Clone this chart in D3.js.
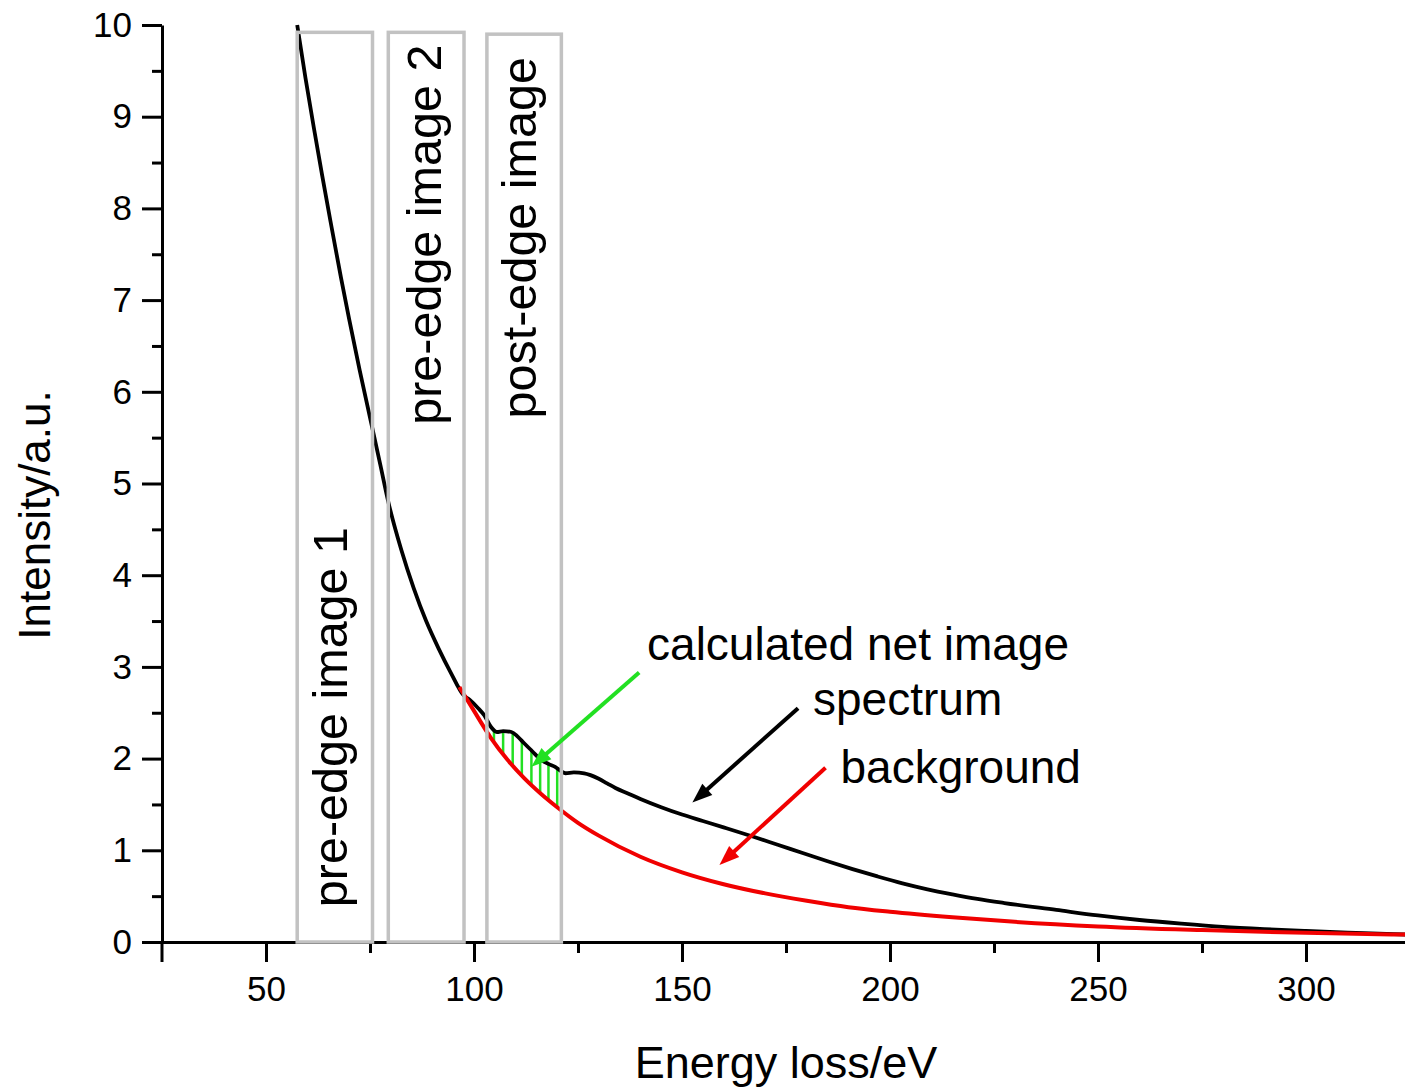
<!DOCTYPE html>
<html>
<head>
<meta charset="utf-8">
<script src="https://cdn.jsdelivr.net/npm/d3@7"></script>
<style>
body { margin: 0; background: #fff; }
text { font-family: "Liberation Sans", Arial, Helvetica, sans-serif; fill: #000; }
</style>
</head>
<body>
<script>
// EELS spectrum with three-window background subtraction

var width = 1405,
    height = 1089;

// measured spectrum (black)
var specE = [57.5, 59.5, 61.5, 63.5, 65.5, 68, 70, 72.5, 75, 77.5, 79.5, 82.5, 85.5, 88.5, 91.5, 94.5, 97.5,
             99, 101, 102.5, 104, 105.5, 107, 109, 110.5, 112, 114, 116, 118, 119.5, 121, 122, 124, 126.5, 128,
             130, 132, 134, 137, 140, 145, 150, 155, 160, 167, 173, 179, 185, 191, 197, 203, 209, 215, 221,
             227.5, 240, 250, 260, 270, 280, 290, 300, 312, 325];
var specI = [10.0, 9.42, 8.88, 8.36, 7.86, 7.25, 6.79, 6.24, 5.72, 5.20, 4.78, 4.28, 3.86, 3.50, 3.20, 2.93, 2.69,
             2.64, 2.55, 2.47, 2.35, 2.29, 2.30, 2.29, 2.24, 2.17, 2.08, 1.99, 1.94, 1.91, 1.86, 1.84, 1.85, 1.84, 1.82,
             1.78, 1.73, 1.68, 1.62, 1.56, 1.47, 1.39, 1.32, 1.25, 1.15, 1.06, 0.97, 0.88, 0.795, 0.715, 0.64, 0.575, 0.52, 0.47,
             0.425, 0.35, 0.29, 0.24, 0.20, 0.165, 0.14, 0.12, 0.10, 0.08];

// extrapolated background (red)
var bgE = [96.5, 100, 104, 108, 112, 116, 120, 125, 130, 140, 150, 160, 170, 180, 190, 200, 215, 230, 250, 275, 300, 325];
var bgI = [2.78, 2.52, 2.23, 1.99, 1.79, 1.62, 1.47, 1.30, 1.16, 0.93, 0.76, 0.63, 0.53, 0.45, 0.38, 0.33, 0.27, 0.22, 0.17, 0.13, 0.10, 0.08];

// energy windows
var winNames = ['pre-edge image 1', 'pre-edge image 2', 'post-edge image'];
var winStart = [57.5, 79.4, 103.1];
var winEnd = [75.6, 97.6, 121.0];
var winTop = [9.92, 9.92, 9.9];

// net signal hatch positions
var hatchE = [104.8, 107.0, 109.3, 111.5, 113.8, 115.9, 117.9, 120.0];

var xMajor = [50, 100, 150, 200, 250, 300];
var xMinor = [75, 125, 175, 225, 275, 325];
var yMajor = [0, 1, 2, 3, 4, 5, 6, 7, 8, 9, 10];
var yMinor = [0.5, 1.5, 2.5, 3.5, 4.5, 5.5, 6.5, 7.5, 8.5, 9.5];

var x = d3.scaleLinear().domain([25, 325]).range([162, 1410]);
var y = d3.scaleLinear().domain([0, 10]).range([942, 25]);

var svg = d3.select('body').append('svg')
    .attr('width', width)
    .attr('height', height);

var interp = function(es, is, e) {
  for (var i = 0; i < es.length - 1; i++) {
    if (e >= es[i] && e <= es[i + 1]) {
      var t = (e - es[i]) / (es[i + 1] - es[i]);
      return is[i] + t * (is[i + 1] - is[i]);
    }
  }
  return is[is.length - 1];
};

// axes
var xAx = svg.append('g').attr('transform', 'translate(0,' + y(0) + ')')
    .call(d3.axisBottom(x).tickValues(xMajor).tickSize(20).tickSizeOuter(0).tickPadding(14));
var xAxMin = svg.append('g').attr('transform', 'translate(0,' + y(0) + ')')
    .call(d3.axisBottom(x).tickValues(xMinor).tickSize(11).tickFormat(''));
var yAx = svg.append('g').attr('transform', 'translate(' + x(25) + ',0)')
    .call(d3.axisLeft(y).tickValues(yMajor).tickSize(20).tickSizeOuter(0).tickPadding(10));
var yAxMin = svg.append('g').attr('transform', 'translate(' + x(25) + ',0)')
    .call(d3.axisLeft(y).tickValues(yMinor).tickSize(10).tickFormat(''));

xAxMin.select('.domain').remove();
yAxMin.select('.domain').remove();
svg.selectAll('.domain').attr('stroke', '#000').attr('stroke-width', 3);
svg.selectAll('.tick line').attr('stroke', '#000').attr('stroke-width', 3);
svg.selectAll('.tick text').style('font-size', '35px').attr('font-family', null);

// y axis stub below the x axis
svg.append('line')
    .attr('x1', x(25)).attr('x2', x(25))
    .attr('y1', y(0)).attr('y2', y(0) + 20)
    .attr('stroke', '#000').attr('stroke-width', 3);

// axis titles
svg.append('text')
    .attr('transform', 'translate(50,515) rotate(-90)')
    .attr('text-anchor', 'middle')
    .style('font-size', '44px')
    .text('Intensity/a.u.');

svg.append('text')
    .attr('x', 786).attr('y', 1078)
    .attr('text-anchor', 'middle')
    .style('font-size', '45px')
    .text('Energy loss/eV');

// green hatching = net signal
svg.selectAll('.hatch')
    .data(hatchE)
  .enter().append('line')
    .attr('class', 'hatch')
    .attr('x1', function(d){ return x(d); })
    .attr('x2', function(d){ return x(d); })
    .attr('y1', function(d){ return y(interp(specE, specI, d)); })
    .attr('y2', function(d){ return y(interp(bgE, bgI, d)); })
    .attr('stroke', '#22e022')
    .attr('stroke-width', 2.5);

var line = d3.line()
    .x(function(d){ return x(d[0]); })
    .y(function(d){ return y(d[1]); })
    .curve(d3.curveMonotoneX);

svg.append('path')
    .datum(d3.zip(specE, specI))
    .attr('d', line)
    .attr('fill', 'none')
    .attr('stroke', '#000')
    .attr('stroke-width', 3.8)
    .attr('stroke-linejoin', 'round');

svg.append('path')
    .datum(d3.zip(bgE, bgI))
    .attr('d', line)
    .attr('fill', 'none')
    .attr('stroke', '#f00000')
    .attr('stroke-width', 4)
    .attr('stroke-linejoin', 'round');

// energy windows
var wins = d3.range(winNames.length);
svg.selectAll('.win')
    .data(wins)
  .enter().append('rect')
    .attr('class', 'win')
    .attr('x', function(i){ return x(winStart[i]); })
    .attr('y', function(i){ return y(winTop[i]); })
    .attr('width', function(i){ return x(winEnd[i]) - x(winStart[i]); })
    .attr('height', function(i){ return y(0) - y(winTop[i]); })
    .attr('fill', 'none')
    .attr('stroke', '#c2c2c2')
    .attr('stroke-width', 3.5);

// window labels (baseline energy, start intensity)
var labE = [69.5, 92.0, 115.0];
var labI = [0.38, 5.64, 5.71];
svg.selectAll('.winlab')
    .data(wins)
  .enter().append('text')
    .attr('class', 'winlab')
    .attr('transform', function(i){ return 'translate(' + x(labE[i]) + ',' + y(labI[i]) + ') rotate(-90)'; })
    .style('font-size', '48.5px')
    .text(function(i){ return winNames[i]; });

// annotations
var annText = ['calculated net image', 'spectrum', 'background'];
var annE = [141.6, 181.5, 188.1];
var annI = [3.08, 2.48, 1.73];
var arrColor = ['#22e022', '#000', '#f00000'];
var arrE0 = [139.7, 177.9, 184.5], arrI0 = [2.94, 2.55, 1.90];
var arrE1 = [113.8, 152.5, 159.0], arrI1 = [1.91, 1.52, 0.84];

annText.forEach(function(t, i) {
  svg.append('text')
      .attr('x', x(annE[i])).attr('y', y(annI[i]))
      .style('font-size', '46px')
      .text(t);

  var x0 = x(arrE0[i]), y0 = y(arrI0[i]),
      x1 = x(arrE1[i]), y1 = y(arrI1[i]);
  var ang = Math.atan2(y1 - y0, x1 - x0);
  var len = 20, hw = 7.5;
  svg.append('line')
      .attr('x1', x0).attr('y1', y0)
      .attr('x2', x1 - 10 * Math.cos(ang)).attr('y2', y1 - 10 * Math.sin(ang))
      .attr('stroke', arrColor[i])
      .attr('stroke-width', 4);
  var bx = x1 - len * Math.cos(ang), by = y1 - len * Math.sin(ang);
  svg.append('path')
      .attr('d', 'M' + x1 + ',' + y1 +
                 'L' + (bx + hw * Math.sin(ang)) + ',' + (by - hw * Math.cos(ang)) +
                 'L' + (bx - hw * Math.sin(ang)) + ',' + (by + hw * Math.cos(ang)) + 'Z')
      .attr('fill', arrColor[i]);
});
</script>
</body>
</html>
